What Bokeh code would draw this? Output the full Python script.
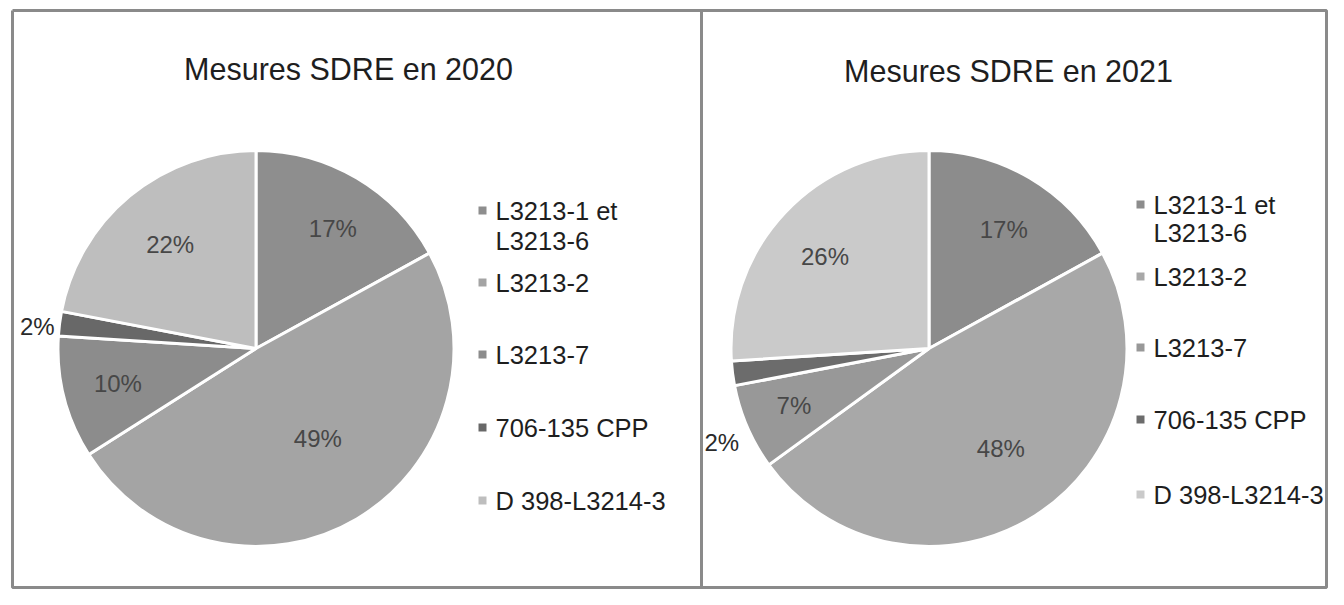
import numpy as np
from bokeh.plotting import figure
from bokeh.models import ColumnDataSource, Range1d
from bokeh.core.properties import value
from bokeh.embed import file_html
from bokeh.resources import INLINE

# ---------------- data ----------------
categories = ["L3213-1 et L3213-6", "L3213-2", "L3213-7", "706-135 CPP", "D 398-L3214-3"]
legend_lines = [["L3213-1 et", "L3213-6"], ["L3213-2"], ["L3213-7"], ["706-135 CPP"], ["D 398-L3214-3"]]
values_2020 = [17, 49, 10, 2, 22]
values_2021 = [17, 48, 7, 2, 26]
titles = ["Mesures SDRE en 2020", "Mesures SDRE en 2021"]

# ---------------- style / layout ----------------
colors_2020 = ["#8e8e8e", "#a4a4a4", "#8c8c8c", "#686868", "#bebebe"]
colors_2021 = ["#8c8c8c", "#a8a8a8", "#989898", "#6c6c6c", "#cacaca"]
FONT = "Liberation Sans"
W, H = 1328, 589


def X(px):
    return px


def Y(py):
    return H - py


p = figure(width=W, height=H, output_backend="svg", toolbar_location=None,
           x_range=Range1d(0, W), y_range=Range1d(0, H), min_border=0)
p.axis.visible = False
p.grid.visible = False
p.outline_line_color = None
p.background_fill_color = "white"
p.border_fill_color = "white"

# frames
p.line(x=[X(12), X(1326), X(1326), X(12), X(12)], y=[Y(10), Y(10), Y(587), Y(587), Y(10)],
       line_color="#8a8a8a", line_width=3)
p.line(x=[X(701), X(701)], y=[Y(10), Y(587)], line_color="#8a8a8a", line_width=3)

panels = [
    dict(vals=values_2020, cols=colors_2020, c=(255.5, 348), r=198,
         lab_f=[0.72, 0.55, 0.72, 1.11, 0.68], lab_dth=[2, -4, 0, -1.5, 0],
         title_xy=(348, 68), leg_sq_x=482, leg_tx_x=495,
         leg_y=[[210, 240], [282], [354], [427], [500]]),
    dict(vals=values_2021, cols=colors_2021, c=(928.5, 348), r=198,
         lab_f=[0.71, 0.62, 0.74, 1.15, 0.70], lab_dth=[1.5, -3.4, 0.6, -17.3, -1.8],
         title_xy=(1008, 70), leg_sq_x=1140, leg_tx_x=1153,
         leg_y=[[204, 232], [276], [347], [419], [494]]),
]

for i, pn in enumerate(panels):
    vals = np.array(pn["vals"], dtype=float)
    frac = vals / vals.sum()
    cum = np.concatenate([[0.0], np.cumsum(frac)])
    start = np.pi / 2 - 2 * np.pi * cum[1:]
    end = np.pi / 2 - 2 * np.pi * cum[:-1]
    mid_cw = 360.0 * (cum[:-1] + frac / 2)
    cx, cy = X(pn["c"][0]), Y(pn["c"][1])
    src = ColumnDataSource(dict(start=start, end=end, color=pn["cols"]))
    p.wedge(x=cx, y=cy, radius=pn["r"], start_angle="start", end_angle="end",
            fill_color="color", line_color="white", line_width=3, source=src)

    th = np.radians(mid_cw + np.array(pn["lab_dth"]))
    rr = pn["r"] * np.array(pn["lab_f"])
    lx = cx + rr * np.sin(th)
    ly = cy + rr * np.cos(th)
    labs = [f"{int(v)}%" for v in pn["vals"]]
    lcol = ["#2a2a2a" if f > 1 else "#474747" for f in pn["lab_f"]]
    p.text(x=lx, y=ly, text=labs, text_color=lcol, text_font=value(FONT),
           text_font_size="24px", text_align="center", text_baseline="middle")

    # title
    p.text(x=[X(pn["title_xy"][0])], y=[Y(pn["title_xy"][1])], text=[titles[i]],
           text_font=value(FONT), text_font_size="30.5px", text_color="#1e1e1e",
           text_align="center", text_baseline="middle")

    # legend
    sq_y = [Y(ys[0]) for ys in pn["leg_y"]]
    p.scatter(x=[X(pn["leg_sq_x"])] * len(sq_y), y=sq_y, marker="square", size=8,
              fill_color=pn["cols"], line_color=None)
    tx, ty, tt = [], [], []
    for lines, ys in zip(legend_lines, pn["leg_y"]):
        for t, yy in zip(lines, ys):
            tx.append(X(pn["leg_tx_x"]))
            ty.append(Y(yy))
            tt.append(t)
    p.text(x=tx, y=ty, text=tt, text_font=value(FONT), text_font_size="25.5px",
           text_color="#1e1e1e", text_align="left", text_baseline="middle")

open("out.html", "w").write(file_html(p, INLINE))
